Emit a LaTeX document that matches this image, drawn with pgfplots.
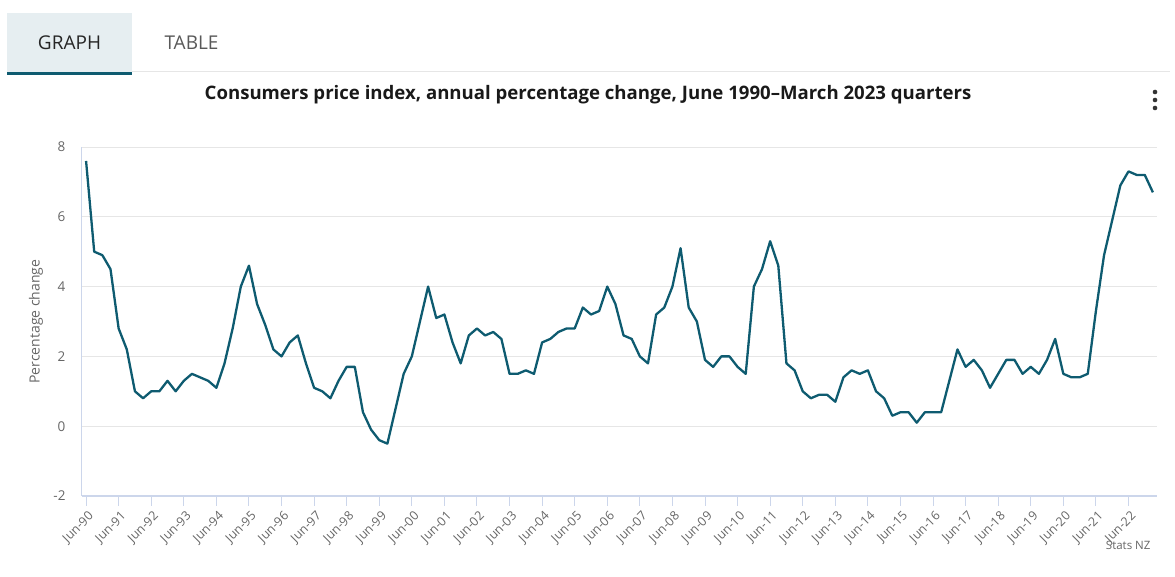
\documentclass[border=0pt]{standalone}
\usepackage{pgfplots}
\pgfplotsset{compat=1.18}
\usepackage{pgfplotstable}
\usepackage{fontspec}
\setmainfont{Open Sans}
\definecolor{linec}{HTML}{0E5B70}
\definecolor{gridc}{HTML}{E6E6E6}
\definecolor{axisc}{HTML}{CCD6EB}
\definecolor{tickc}{HTML}{666666}
\definecolor{tabbg}{HTML}{E6EEF1}
\definecolor{tabline}{HTML}{0E5B70}
\pgfplotstableread{
v
7.6
5.0
4.9
4.5
2.8
2.2
1.0
0.8
1.0
1.0
1.3
1.0
1.3
1.5
1.4
1.3
1.1
1.8
2.8
4.0
4.6
3.5
2.9
2.2
2.0
2.4
2.6
1.8
1.1
1.0
0.8
1.3
1.7
1.7
0.4
-0.1
-0.4
-0.5
0.5
1.5
2.0
3.0
4.0
3.1
3.2
2.4
1.8
2.6
2.8
2.6
2.7
2.5
1.5
1.5
1.6
1.5
2.4
2.5
2.7
2.8
2.8
3.4
3.2
3.3
4.0
3.5
2.6
2.5
2.0
1.8
3.2
3.4
4.0
5.1
3.4
3.0
1.9
1.7
2.0
2.0
1.7
1.5
4.0
4.5
5.3
4.6
1.8
1.6
1.0
0.8
0.9
0.9
0.7
1.4
1.6
1.5
1.6
1.0
0.8
0.3
0.4
0.4
0.1
0.4
0.4
0.4
1.3
2.2
1.7
1.9
1.6
1.1
1.5
1.9
1.9
1.5
1.7
1.5
1.9
2.5
1.5
1.4
1.4
1.5
3.3
4.9
5.9
6.9
7.3
7.2
7.2
6.7
}\cpi
\begin{document}
\begin{tikzpicture}[x=1pt,y=1pt]
\path[use as bounding box] (0,0) rectangle (1175,577);
% tabs
\fill[tabbg] (7,505) rectangle (132,564);
\fill[tabline] (7,502) rectangle (132,505);
\draw[gridc, line width=1pt] (132,505) -- (1170,505);
\node[text=black!85, font=\fontsize{19}{21}\selectfont] at (69.5,534) {GRAPH};
\node[text=black!65, font=\fontsize{19}{21}\selectfont] at (191.5,534) {TABLE};
% title
\node[text=black!90, font=\fontsize{18.6}{21}\selectfont\bfseries] at (588,482) {Consumers price index, annual percentage change, June 1990--March 2023 quarters};
% menu dots
\fill[black!80] (1155,485) circle (2.3);
\fill[black!80] (1155,477) circle (2.3);
\fill[black!80] (1155,469) circle (2.3);
% credit
\node[anchor=east, text=black!60, font=\fontsize{11.5}{13}\selectfont] at (1154,32) {Stats NZ};
\begin{axis}[
  at={(82pt,81pt)}, anchor=south west,
  scale only axis, width=1075pt, height=349pt,
  xmin=-0.5, xmax=131.5, ymin=-2, ymax=8,
  axis line style={draw=none},
  axis x line*=bottom, axis y line*=left,
  ytick={-2,0,2,4,6,8},
  ymajorgrids, grid style={gridc, line width=0.8pt},
  xtick={0,4,...,128},
  xticklabels={Jun-90,Jun-91,Jun-92,Jun-93,Jun-94,Jun-95,Jun-96,Jun-97,Jun-98,Jun-99,Jun-00,Jun-01,Jun-02,Jun-03,Jun-04,Jun-05,Jun-06,Jun-07,Jun-08,Jun-09,Jun-10,Jun-11,Jun-12,Jun-13,Jun-14,Jun-15,Jun-16,Jun-17,Jun-18,Jun-19,Jun-20,Jun-21,Jun-22},
  x tick label style={rotate=45, anchor=north east, text=tickc, font=\fontsize{12.5}{13}\selectfont, inner sep=1pt, yshift=-3pt, xshift=-1pt},
  y tick label style={text=tickc, font=\fontsize{13.5}{14}\selectfont, xshift=-13pt},
  ytick style={draw=none},
  xtick style={axisc, line width=1pt},
  major tick length=10pt,
  xtick align=outside,
  /pgf/number format/assume math mode=true,
  ylabel={Percentage change},
  every axis y label/.style={at={(rel axis cs:0,0.5)}, rotate=90, anchor=center, yshift=46pt, text=tickc, font=\fontsize{14}{15}\selectfont},
  clip=false,
]
\draw[axisc, line width=1pt] (axis cs:-0.5,-2) -- (axis cs:-0.5,8);
\draw[axisc, line width=1.5pt] (axis cs:-0.5,-2) -- (axis cs:131.5,-2);
\addplot[linec, line width=2.3pt, line join=round, mark=none] table[x expr=\coordindex, y=v] {\cpi};
\end{axis}
\end{tikzpicture}
\end{document}
